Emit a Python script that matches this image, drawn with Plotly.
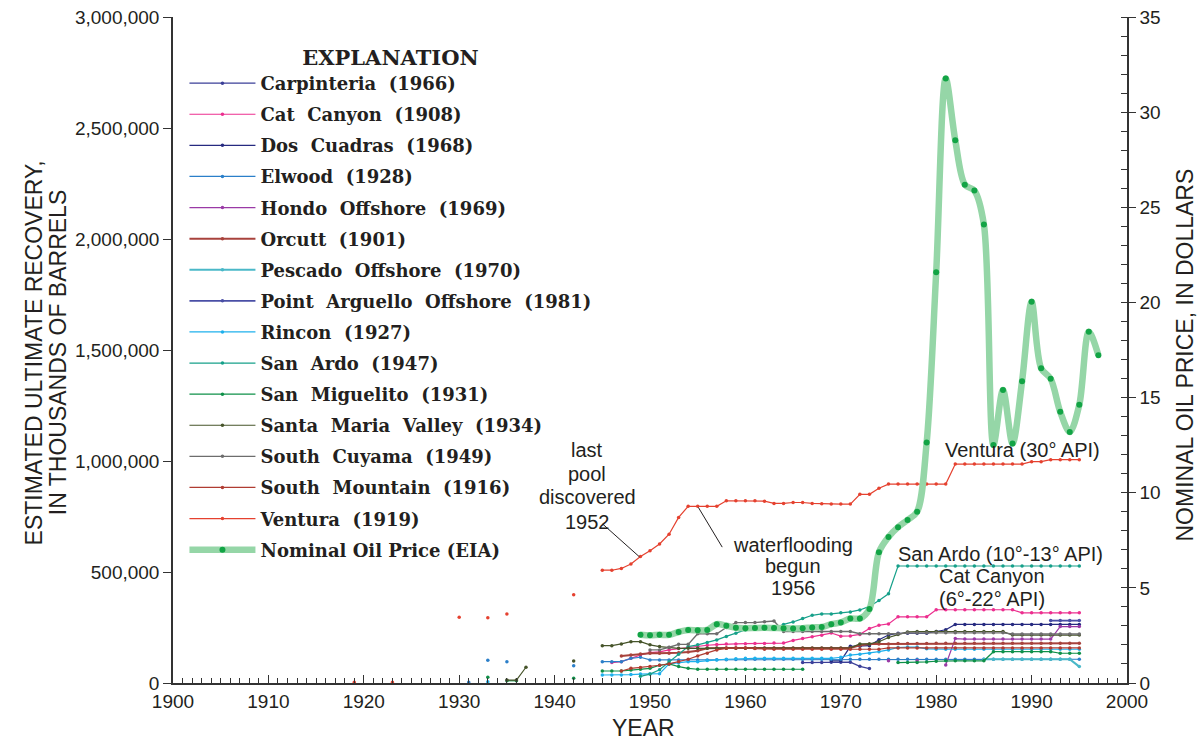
import plotly.graph_objects as go

# ---- Estimated ultimate recovery (thousands of barrels) by field and year ----
carpinteria_years = list(range(1966, 1974))
carpinteria_eur = [92000, 92000, 92000, 93000, 93000, 94000, 75000, 65000]

cat_canyon_years = list(range(1946, 1996))
cat_canyon_eur = [92000, 96000, 111000, 126000, 137000, 140000, 149000, 155000, 160000, 165000,
                  170000, 173000, 176000, 176000, 177000, 178000, 178000, 180000, 180000, 192000,
                  200000, 208000, 215000, 225000, 211000, 212000, 219000, 245000, 260000, 266000,
                  298000, 298000, 298000, 298000, 330000, 330000, 330000, 330000, 330000, 330000,
                  330000, 330000, 330000, 316000, 316000, 316000, 316000, 316000, 316000, 316000]

dos_cuadras_years = list(range(1969, 1996))
dos_cuadras_eur = [100000, 100000, 165000, 165000, 168000, 195000, 216000, 224000, 224000, 224000,
                   224000, 232000, 240000, 264000, 264000, 264000, 264000, 264000, 264000, 264000,
                   264000, 264000, 264000, 264000, 264000, 264000, 264000]

elwood_years = [1931, 1933, 1935, 1942] + list(range(1945, 1996))
elwood_eur = [3000, 102000, 96000, 78000,
              96000, 96000, 96000, 111000, 116000, 104000, 104000, 104000, 104000, 104000,
              104000, 104000, 105000, 105000, 106000, 106000, 107000, 107000, 107000, 107000,
              107000, 107000, 107000, 107000, 107000, 107000, 107000, 107000, 107000, 107000,
              107000, 107000, 107000, 107000, 107000, 107000, 107000, 107000, 107000, 107000,
              107000, 107000, 107000, 107000, 107000, 107000, 107000, 107000, 107000, 107000,
              107000]

hondo_years = [1975, 1978] + list(range(1981, 1996))
hondo_eur = [100000, 100000,
             81000, 200000, 198000, 198000, 198000, 198000, 198000, 198000, 198000, 198000,
             198000, 198000, 254000, 254000, 254000]

orcutt_years = list(range(1947, 1996))
orcutt_eur = [122000, 126000, 131000, 134000, 134000, 134000, 136000, 140000, 145000, 156000,
              158000, 158000, 158000, 158000, 158000, 158000, 158000, 158000, 158000, 158000,
              158000, 158000, 158000, 158000, 158000, 170000, 176000, 176000, 176000, 178000,
              178000, 178000, 178000, 179000, 179000, 179000, 179000, 179000, 179000, 179000,
              179000, 179000, 179000, 179000, 179000, 179000, 179000, 179000, 179000]

pescado_years = list(range(1985, 1996))
pescado_eur = [107000, 107000, 107000, 107000, 107000, 107000, 107000, 107000, 107000, 107000, 74000]

point_arguello_years = [1992, 1993, 1994, 1995]
point_arguello_eur = [281000, 281000, 281000, 281000]

rincon_years = [1933] + list(range(1945, 1996))
rincon_eur = [6000,
              36000, 36000, 36000, 38000, 40000, 40000, 42000, 86000, 90000, 96000,
              96000, 101000, 104000, 107000, 109000, 111000, 111000, 111000, 111000, 111000,
              111000, 111000, 111000, 111000, 111000, 116000, 126000, 130000, 134000, 141000,
              149000, 160000, 162000, 162000, 154000, 152000, 152000, 152000, 152000, 152000,
              152000, 152000, 152000, 152000, 152000, 152000, 152000, 152000, 152000, 152000,
              152000]

san_ardo_years = list(range(1949, 1996))
san_ardo_eur = [30000, 40000, 60000, 96000, 130000, 164000, 172000, 182000, 194000, 210000,
                224000, 239000, 242000, 242000, 245000, 264000, 275000, 290000, 305000, 311000,
                311000, 316000, 320000, 329000, 345000, 372000, 402000, 527000, 527000, 527000,
                527000, 527000, 527000, 527000, 527000, 527000, 527000, 527000, 527000, 527000,
                527000, 527000, 527000, 527000, 527000, 527000, 527000]

san_miguelito_years = [1933, 1935, 1936, 1942] + list(range(1945, 1967)) + list(range(1976, 1996))
san_miguelito_eur = [26000, 10000, 10000, 21000,
                     54000, 54000, 54000, 58000, 62000, 66000, 80000, 86000, 74000, 66000,
                     62000, 62000, 62000, 62000, 62000, 62000, 62000, 62000, 62000, 62000,
                     62000, 62000,
                     92000, 92000, 92000, 95000, 98000, 100000, 100000, 100000, 100000, 100000,
                     141000, 141000, 141000, 141000, 141000, 141000, 141000, 134000, 134000, 134000]

santa_maria_years = [1935, 1936, 1937, 1942] + list(range(1945, 1996))
santa_maria_eur = [13000, 13000, 71000, 99000,
                   168000, 168000, 176000, 186000, 186000, 172000, 164000, 160000, 156000, 156000,
                   156000, 156000, 156000, 156000, 156000, 156000, 156000, 156000, 156000, 156000,
                   156000, 156000, 156000, 156000, 156000, 156000, 158000, 176000, 176000, 186000,
                   205000, 218000, 230000, 232000, 232000, 232000, 232000, 232000, 232000, 232000,
                   232000, 232000, 232000, 216000, 216000, 216000, 216000, 216000, 216000, 216000,
                   216000]

south_cuyama_years = list(range(1950, 1996))
south_cuyama_eur = [149000, 149000, 161000, 174000, 174000, 222000, 222000, 222000, 250000, 272000,
                    272000, 272000, 276000, 279000, 232000, 232000, 232000, 232000, 232000, 232000,
                    232000, 232000, 222000, 222000, 222000, 222000, 222000, 226000, 226000, 226000,
                    226000, 226000, 226000, 226000, 226000, 226000, 226000, 226000, 221000, 221000,
                    221000, 221000, 221000, 221000, 221000, 221000]

south_mountain_years = list(range(1947, 1996))
south_mountain_eur = [54000, 66000, 70000, 74000, 80000, 86000, 96000, 107000, 122000, 134000,
                      149000, 156000, 158000, 158000, 155000, 152000, 152000, 152000, 152000, 152000,
                      152000, 152000, 152000, 152000, 152000, 152000, 152000, 152000, 158000, 158000,
                      158000, 158000, 158000, 158000, 158000, 158000, 158000, 158000, 158000, 158000,
                      158000, 158000, 158000, 158000, 158000, 158000, 158000, 158000, 158000]

ventura_years = [1919, 1923, 1930, 1933, 1935, 1942] + list(range(1945, 1996))
ventura_eur = [3000, 3000, 296000, 294000, 311000, 398000,
               508000, 508000, 516000, 536000, 570000, 596000, 626000, 670000, 746000, 796000,
               796000, 796000, 796000, 821000, 821000, 821000, 821000, 819000, 809000, 809000,
               813000, 813000, 809000, 807000, 806000, 806000, 806000, 850000, 850000, 877000,
               896000, 896000, 896000, 896000, 896000, 896000, 896000, 986000, 986000, 986000,
               986000, 986000, 986000, 986000, 986000, 997000, 997000, 1006000, 1006000, 1006000,
               1006000]

# ---- Nominal oil price, dollars per barrel (EIA) ----
price_years = list(range(1949, 1998))
price_usd = [2.54, 2.51, 2.53, 2.53, 2.68, 2.78, 2.77, 2.79, 3.09, 3.01,
             2.90, 2.88, 2.89, 2.90, 2.89, 2.88, 2.86, 2.88, 2.92, 2.94,
             3.09, 3.18, 3.39, 3.39, 3.89, 6.87, 7.67, 8.19, 8.57, 9.00,
             12.64, 21.59, 31.77, 28.52, 26.19, 25.88, 24.09, 12.51, 15.40, 12.58,
             15.86, 20.03, 16.54, 15.99, 14.25, 13.19, 14.62, 18.46, 17.23]

# Field name, discovery year, series, colour, line width
fields = [
    ("Carpinteria", 1966, carpinteria_years, carpinteria_eur, "#3b3f98", 1.2),
    ("Cat Canyon", 1908, cat_canyon_years, cat_canyon_eur, "#ec2f8f", 1.2),
    ("Dos Cuadras", 1968, dos_cuadras_years, dos_cuadras_eur, "#262a80", 1.2),
    ("Elwood", 1928, elwood_years, elwood_eur, "#2b7fc9", 1.2),
    ("Hondo Offshore", 1969, hondo_years, hondo_eur, "#9a3aa6", 1.2),
    ("Orcutt", 1901, orcutt_years, orcutt_eur, "#a8423c", 2.0),
    ("Pescado Offshore", 1970, pescado_years, pescado_eur, "#4ab8c8", 2.2),
    ("Point Arguello Offshore", 1981, point_arguello_years, point_arguello_eur, "#4a4fa6", 1.8),
    ("Rincon", 1927, rincon_years, rincon_eur, "#1eb0ec", 1.2),
    ("San Ardo", 1947, san_ardo_years, san_ardo_eur, "#16a08a", 1.2),
    ("San Miguelito", 1931, san_miguelito_years, san_miguelito_eur, "#0e9048", 1.2),
    ("Santa Maria Valley", 1934, santa_maria_years, santa_maria_eur, "#46542a", 1.2),
    ("South Cuyama", 1949, south_cuyama_years, south_cuyama_eur, "#6d6d6d", 1.4),
    ("South Mountain", 1916, south_mountain_years, south_mountain_eur, "#b03c32", 1.2),
    ("Ventura", 1919, ventura_years, ventura_eur, "#e5412f", 1.2),
]

SANS = "Liberation Sans, Arial, sans-serif"
SERIF = "DejaVu Serif, serif"
INK = "#231f20"
AXIS = "#333333"
WIDE = "\u00a0 "  # wide word gap used in the explanation entries


def annual(years, values):
    """Spread a field's values onto consecutive years, leaving gaps as None."""
    lookup = dict(zip(years, values))
    span = list(range(min(years), max(years) + 1))
    return span, [lookup.get(y) for y in span]


fig = go.Figure()

for i, (field, found, yrs, vals, color, width) in enumerate(fields):
    xs, ys = annual(yrs, vals)
    label = WIDE.join(field.split(" ") + [f"({found})"])
    fig.add_trace(go.Scatter(
        x=xs, y=ys, name=label, mode="lines+markers", legendgroup=f"g{i}",
        line=dict(color=color, width=width), connectgaps=False,
        marker=dict(color=color, size=3.5),
    ))

fig.add_trace(go.Scatter(
    x=price_years, y=price_usd, name="Nominal Oil Price (EIA)", yaxis="y2",
    mode="lines+markers", legendgroup="price",
    line=dict(color="#95d6a7", width=6.5, shape="spline", smoothing=0.9),
    marker=dict(color="#12a445", size=6),
))

# Leader lines from the notes to the Ventura curve
leaders = [
    ((1945.04, 716000), (1948.9, 568000)),
    ((1957.57, 612000), (1955.07, 791000)),
]
shapes = [dict(type="line", xref="x", yref="y", x0=a[0], y0=a[1], x1=b[0], y1=b[1],
               line=dict(color=INK, width=1)) for a, b in leaders]

notes = [
    ("last", 1943.4, 1049000), ("pool", 1943.4, 941000),
    ("discovered", 1943.4, 836000), ("1952", 1943.4, 725000),
    ("waterflooding", 1965.0, 622000), ("begun", 1965.0, 529000), ("1956", 1965.0, 430000),
    ("Ventura (30° API)", 1989.0, 1049000),
    ("San Ardo (10°-13° API)", 1986.7, 581000),
    ("Cat Canyon", 1985.8, 482000), ("(6°-22° API)", 1985.9, 378000),
]
annotations = [dict(text=t, x=x, y=y, xref="x", yref="y", showarrow=False,
                    font=dict(family=SANS, size=20, color=INK)) for t, x, y in notes]

# Axis titles, set as text in paper coordinates
title_font = dict(family=SANS, size=23, color=INK)
annotations += [
    dict(text="ESTIMATED ULTIMATE RECOVERY,", x=-0.146, y=0.496, textangle=-90),
    dict(text="IN THOUSANDS OF BARRELS", x=-0.121, y=0.496, textangle=-90),
    dict(text="NOMINAL OIL PRICE, IN DOLLARS", x=1.061, y=0.492, textangle=-90),
    dict(text="YEAR", x=0.493, y=-0.067),
]
for a in annotations[-4:]:
    a.update(xref="paper", yref="paper", showarrow=False, font=title_font,
             xanchor="center", yanchor="middle")

fig.update_layout(
    width=1199, height=742,
    margin=dict(l=173, r=72, t=17, b=59),
    paper_bgcolor="white", plot_bgcolor="white",
    showlegend=True,
    legend=dict(
        x=0.012, y=0.969, xanchor="left", yanchor="top",
        bgcolor="rgba(0,0,0,0)", tracegroupgap=4.7, itemwidth=66,
        font=dict(family=SERIF, size=18, color=INK, weight="bold"),
        title=dict(text="EXPLANATION", side="top center",
                   font=dict(family=SERIF, size=21, color=INK, weight="bold")),
    ),
    xaxis=dict(
        range=[1900, 2000], tickmode="array", tickvals=list(range(1900, 2001, 10)),
        ticks="inside", ticklen=8, tickwidth=1.2, tickcolor=AXIS,
        minor=dict(dtick=1, ticks="inside", ticklen=5, tickcolor=AXIS, tickwidth=1),
        showline=True, linecolor=AXIS, linewidth=1.5, showgrid=False, zeroline=False,
        tickfont=dict(family=SANS, size=19, color=INK), automargin=False,
    ),
    yaxis=dict(
        range=[0, 3000000], dtick=500000, tickformat=",",
        ticks="outside", ticklen=8, tickcolor=AXIS, tickwidth=1.2,
        showline=True, linecolor=AXIS, linewidth=1.5, showgrid=False, zeroline=False,
        tickfont=dict(family=SANS, size=19, color=INK), automargin=False,
    ),
    yaxis2=dict(
        range=[0, 35], dtick=5, overlaying="y", side="right",
        ticks="outside", ticklen=7, tickcolor=AXIS, tickwidth=1.2,
        minor=dict(dtick=1, ticks="inside", ticklen=6, tickcolor=AXIS, tickwidth=1),
        showline=True, linecolor=AXIS, linewidth=1.5, showgrid=False, zeroline=False,
        tickfont=dict(family=SANS, size=19, color=INK), automargin=False,
    ),
    shapes=shapes,
    annotations=annotations,
)

fig.write_html("out.html")
